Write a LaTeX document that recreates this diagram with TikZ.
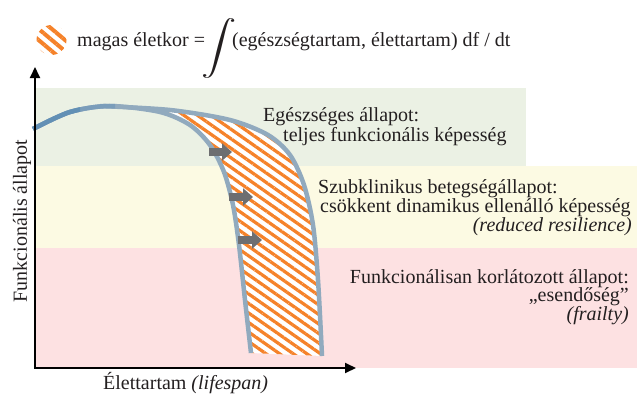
\documentclass[tikz,border=0pt]{standalone}
\usepackage{fontspec}
\usepackage{graphicx}
\usepackage{exscale}
\setmainfont{Liberation Serif}
\usetikzlibrary{patterns.meta,arrows.meta}
\definecolor{greenC}{HTML}{EBF1E4}
\definecolor{yellowC}{HTML}{FCFAE3}
\definecolor{pinkC}{HTML}{FDE1E2}
\definecolor{curveC}{HTML}{91AABE}
\definecolor{curveMid}{HTML}{7A9DBA}
\definecolor{curveDark}{HTML}{6290B5}
\definecolor{orangeC}{HTML}{F5822A}
\definecolor{arrowC}{HTML}{6D6E71}
\definecolor{textC}{HTML}{231F20}
\begin{document}
\begin{tikzpicture}[x=1pt,y=-1pt,
  txt/.style={font=\fontsize{20}{22}\selectfont, text=textC, inner sep=0pt},
  curve/.style={line width=4.5pt, draw=curveC},
  shift arrow/.style={draw=arrowC, line width=8pt, -{Triangle[length=10pt,width=17pt]}},
  hatch/.style={pattern={Lines[angle=-35,distance=7.8pt,line width=3.2pt]}, pattern color=orangeC}]
\useasboundingbox (0,0) rectangle (637,396);
% bands
\fill[greenC] (35,88) rectangle (526,166);
\fill[yellowC] (35,166) rectangle (637,248);
\fill[pinkC] (35,248) rectangle (637,368);
% hatched region
\path[fill=white, postaction={hatch}]
  plot[smooth] coordinates {(105,106) (170,110) (230,120) (268,135) (290,155) (304,185) (313,225) (318,280) (322,356)}
  -- plot[smooth] coordinates {(251,353) (245,300) (239,245) (233,205) (224,172) (210,145) (190,125) (160,112) (105,106)}
  -- cycle;
% curves
\draw[curve] plot[smooth] coordinates {(100,106) (170,110) (230,120) (268,135) (290,155) (304,185) (313,225) (318,280) (322,356)};
\draw[curve] plot[smooth] coordinates {(33,129) (70,112) (110,106) (160,112) (190,125) (210,145) (224,172) (233,205) (239,245) (245,300) (251,353)};
\begin{scope}
  \clip (0,0) rectangle (115,200);
  \draw[curve, draw=curveMid] plot[smooth] coordinates {(33,129) (70,112) (110,106) (160,112) (190,125) (210,145) (224,172) (233,205) (239,245) (245,300) (251,353)};
\end{scope}
\begin{scope}
  \clip (0,0) rectangle (80,200);
  \draw[curve, draw=curveDark] plot[smooth] coordinates {(33,129) (70,112) (110,106) (160,112) (190,125) (210,145) (224,172) (233,205) (239,245) (245,300) (251,353)};
\end{scope}
% shift arrows
\coordinate (a1s) at (209,152); \coordinate (a1e) at (232,152);
\coordinate (a2s) at (229,197); \coordinate (a2e) at (253,197);
\coordinate (a3s) at (238,240); \coordinate (a3e) at (262,240);
\draw[shift arrow] (a1s) -- (a1e);
\draw[shift arrow] (a2s) -- (a2e);
\draw[shift arrow] (a3s) -- (a3e);
% axes
\coordinate (ytop) at (35,67);
\coordinate (origin) at (35,368);
\coordinate (xend) at (356,368);
\draw[line width=2pt, {Triangle[length=11pt,width=10pt]}-{Triangle[length=11pt,width=10pt]}] (ytop) -- (origin) -- (xend);
% axis labels
\node[txt, rotate=90, anchor=base] (ylab) at (27,221) {Funkcionális állapot};
\node[txt, anchor=base west] (xlab) at (103,389) {Élettartam \textit{(lifespan)}};
% band texts
\node[txt, anchor=base west] (g1) at (263,121) {Egészséges állapot:};
\node[txt, anchor=base west] (g2) at (283,141) {teljes funkcionális képesség};
\node[txt, anchor=base west] (y1) at (318,193) {Szubklinikus betegségállapot:};
\node[txt, anchor=base west] (y2) at (320,212) {csökkent dinamikus ellenálló képesség};
\node[txt, anchor=base east] (y3) at (632,231) {\textit{(reduced resilience)}};
\node[txt, anchor=base east] (p1) at (629,283) {Funkcionálisan korlátozott állapot:};
\node[txt, anchor=base east] (p2) at (629,301) {„esendőség”};
\node[txt, anchor=base east] (p3) at (629,320) {\textit{(frailty)}};
% legend
\begin{scope}
  \clip (51.5,40) circle (15pt);
  \fill[white] (51.5,40) circle (15pt);
  \fill[pattern={Lines[angle=-40,distance=8.5pt,line width=4pt]}, pattern color=orangeC] (51.5,40) circle (15pt);
\end{scope}
\node[txt, anchor=base west] (leg1) at (77,47) {magas életkor =};
\node[txt] (integ) at (219,48) {\scalebox{1.7}[1.3]{$\displaystyle\int$}};
\node[txt, anchor=base west] (leg2) at (232,47) {(egészségtartam, élettartam) df / dt};
\end{tikzpicture}
\end{document}
